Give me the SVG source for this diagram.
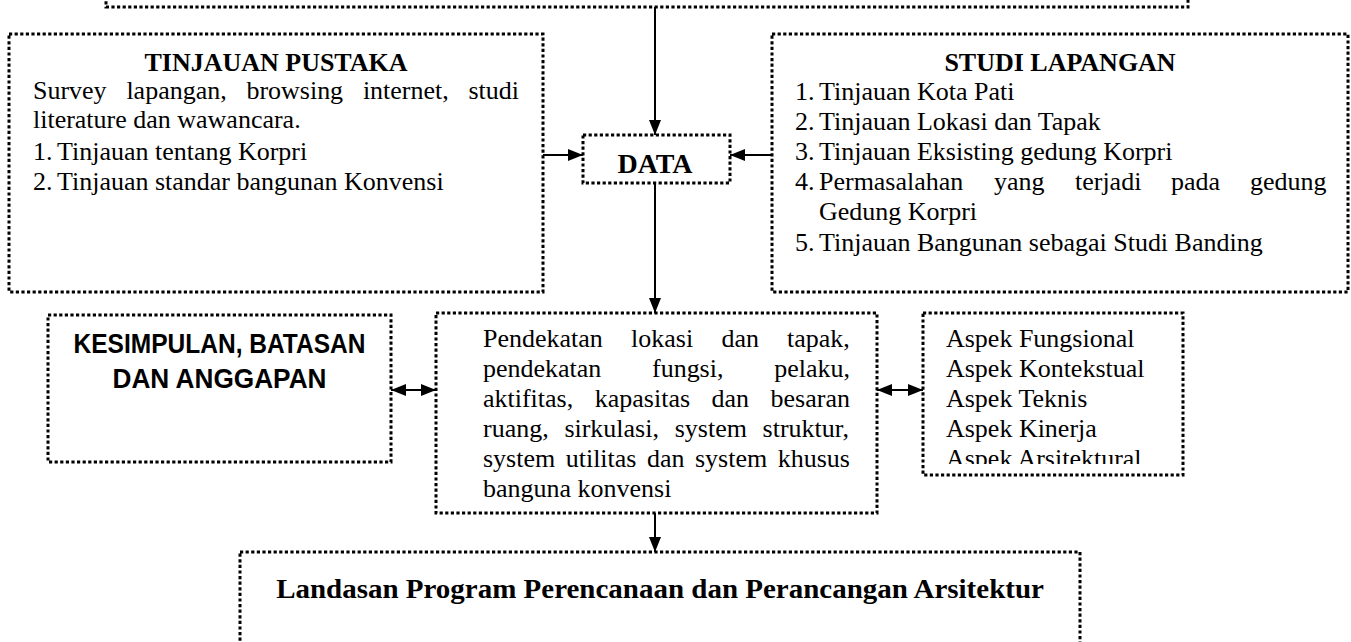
<svg xmlns="http://www.w3.org/2000/svg" width="1351" height="642" viewBox="0 0 1351 642">
<style>
.box{fill:none;stroke:#000;stroke-width:3;stroke-dasharray:3.2 2.4}
.t{font-family:"Liberation Serif","Times New Roman",serif;font-size:26px;fill:#000}
.b{font-weight:bold}
.s{font-family:"Liberation Sans Narrow","Liberation Sans",Arial,sans-serif;font-weight:bold;font-size:27px;fill:#000}
.c{stroke:#000;stroke-width:2;fill:none}
</style>
<defs>
<marker id="ah" viewBox="0 0 15 12" refX="15" refY="6" markerWidth="15" markerHeight="12" markerUnits="userSpaceOnUse" orient="auto-start-reverse"><path d="M0,0 L15,6 L0,12 z" fill="#000"/></marker>
<clipPath id="clipMid"><rect x="440" y="316" width="434" height="187"/></clipPath>
<clipPath id="clipAsp"><rect x="926" y="316" width="254" height="148"/></clipPath>
</defs>
<rect width="1351" height="642" fill="#fff"/>

<g id="connectors">
<line class="c" x1="655" y1="7" x2="655" y2="135" marker-end="url(#ah)"/>
<line class="c" x1="543" y1="155" x2="583" y2="155" marker-end="url(#ah)"/>
<line class="c" x1="772" y1="155" x2="730" y2="155" marker-end="url(#ah)"/>
<line class="c" x1="655" y1="183" x2="655" y2="313" marker-end="url(#ah)"/>
<line class="c" x1="391" y1="390" x2="436" y2="390" marker-start="url(#ah)" marker-end="url(#ah)"/>
<line class="c" x1="877" y1="390" x2="923" y2="390" marker-start="url(#ah)" marker-end="url(#ah)"/>
<line class="c" x1="655" y1="513" x2="655" y2="552" marker-end="url(#ah)"/>
</g>

<g id="top">
<path class="box" d="M106,-10 V7 H1188 V-10"/>
</g>

<g id="tinjauan-pustaka">
<rect class="box" x="9" y="34" width="534" height="258"/>
<text class="t b" text-anchor="middle" transform="matrix(1 0 0 0.94 276 71)" x="0" y="0">TINJAUAN PUSTAKA</text>
<text class="t" transform="matrix(1 0 0 0.94 0 99)"><tspan x="33" y="0">Survey</tspan><tspan x="126.4" y="0">lapangan,</tspan><tspan x="246.4" y="0">browsing</tspan><tspan x="362.9" y="0">internet,</tspan><tspan x="468.4" y="0">studi</tspan></text>
<text class="t" transform="matrix(1 0 0 0.94 0 128)"><tspan x="33" y="0">literature dan wawancara.</tspan></text>
<text class="t" transform="matrix(1 0 0 0.94 0 160)"><tspan x="33" y="0">1.</tspan><tspan x="57" y="0">Tinjauan tentang Korpri</tspan></text>
<text class="t" transform="matrix(1 0 0 0.94 0 190)"><tspan x="33" y="0">2.</tspan><tspan x="57" y="0">Tinjauan standar bangunan Konvensi</tspan></text>
</g>

<g id="data">
<rect class="box" x="583" y="135" width="147" height="48"/>
<text class="t b" style="font-size:28px" text-anchor="middle" x="655" y="173">DATA</text>
</g>

<g id="studi-lapangan">
<rect class="box" x="772" y="34" width="576" height="258"/>
<text class="t b" text-anchor="middle" transform="matrix(1 0 0 0.94 1060 71)" x="0" y="0">STUDI LAPANGAN</text>
<text class="t" transform="matrix(1 0 0 0.94 0 100)"><tspan x="795" y="0">1.</tspan><tspan x="819" y="0">Tinjauan Kota Pati</tspan></text>
<text class="t" transform="matrix(1 0 0 0.94 0 130)"><tspan x="795" y="0">2.</tspan><tspan x="819" y="0">Tinjauan Lokasi dan Tapak</tspan></text>
<text class="t" transform="matrix(1 0 0 0.94 0 160)"><tspan x="795" y="0">3.</tspan><tspan x="819" y="0">Tinjauan Eksisting gedung Korpri</tspan></text>
<text class="t" transform="matrix(1 0 0 0.94 0 190)"><tspan x="795" y="0">4.</tspan><tspan x="819" y="0">Permasalahan</tspan><tspan x="994" y="0">yang</tspan><tspan x="1075" y="0">terjadi</tspan><tspan x="1171" y="0">pada</tspan><tspan x="1250" y="0">gedung</tspan></text>
<text class="t" transform="matrix(1 0 0 0.94 0 220)"><tspan x="819" y="0">Gedung Korpri</tspan></text>
<text class="t" transform="matrix(1 0 0 0.94 0 251)"><tspan x="795" y="0">5.</tspan><tspan x="819" y="0">Tinjauan Bangunan sebagai Studi Banding</tspan></text>
</g>

<g id="kesimpulan">
<rect class="box" x="48" y="315" width="343" height="147"/>
<text class="s" text-anchor="middle" x="219.5" y="353" textLength="292" lengthAdjust="spacingAndGlyphs">KESIMPULAN, BATASAN</text>
<text class="s" text-anchor="middle" x="219.5" y="388" textLength="214" lengthAdjust="spacingAndGlyphs">DAN ANGGAPAN</text>
</g>

<g id="pendekatan">
<rect class="box" x="436" y="313" width="441" height="200"/>
<g clip-path="url(#clipMid)">
<text class="t" transform="matrix(1 0 0 0.94 0 347)"><tspan x="483" y="0">Pendekatan</tspan><tspan x="631.1" y="0">lokasi</tspan><tspan x="721.4" y="0">dan</tspan><tspan x="787.1" y="0">tapak,</tspan></text>
<text class="t" transform="matrix(1 0 0 0.94 0 377)"><tspan x="483" y="0">pendekatan</tspan><tspan x="652" y="0">fungsi,</tspan><tspan x="774.2" y="0">pelaku,</tspan></text>
<text class="t" transform="matrix(1 0 0 0.94 0 407)"><tspan x="483" y="0">aktifitas,</tspan><tspan x="594.8" y="0">kapasitas</tspan><tspan x="711.6" y="0">dan</tspan><tspan x="770.6" y="0">besaran</tspan></text>
<text class="t" transform="matrix(1 0 0 0.94 0 437)"><tspan x="483" y="0">ruang,</tspan><tspan x="564.4" y="0">sirkulasi,</tspan><tspan x="674.7" y="0">system</tspan><tspan x="762.6" y="0">struktur,</tspan></text>
<text class="t" transform="matrix(1 0 0 0.94 0 467)"><tspan x="483" y="0">system</tspan><tspan x="565.7" y="0">utilitas</tspan><tspan x="647" y="0">dan</tspan><tspan x="695" y="0">system</tspan><tspan x="777.7" y="0">khusus</tspan></text>
<text class="t" transform="matrix(1 0 0 0.94 0 497)"><tspan x="483" y="0">banguna konvensi</tspan></text>
</g>
</g>

<g id="aspek">
<rect class="box" x="923" y="313" width="260" height="162"/>
<g clip-path="url(#clipAsp)">
<text class="t" transform="matrix(1 0 0 0.94 0 347)"><tspan x="946" y="0">Aspek Fungsional</tspan></text>
<text class="t" transform="matrix(1 0 0 0.94 0 377)"><tspan x="946" y="0">Aspek Kontekstual</tspan></text>
<text class="t" transform="matrix(1 0 0 0.94 0 407)"><tspan x="946" y="0">Aspek Teknis</tspan></text>
<text class="t" transform="matrix(1 0 0 0.94 0 437)"><tspan x="946" y="0">Aspek Kinerja</tspan></text>
<text class="t" transform="matrix(1 0 0 0.94 0 467)"><tspan x="946" y="0">Aspek Arsitektural</tspan></text>
</g>
</g>

<g id="landasan">
<rect class="box" x="240" y="552" width="840" height="120"/>
<text class="t b" style="font-size:29px" text-anchor="middle" transform="matrix(1 0 0 0.94 660 598)" x="0" y="0">Landasan Program Perencanaan dan Perancangan Arsitektur</text>
</g>
</svg>
